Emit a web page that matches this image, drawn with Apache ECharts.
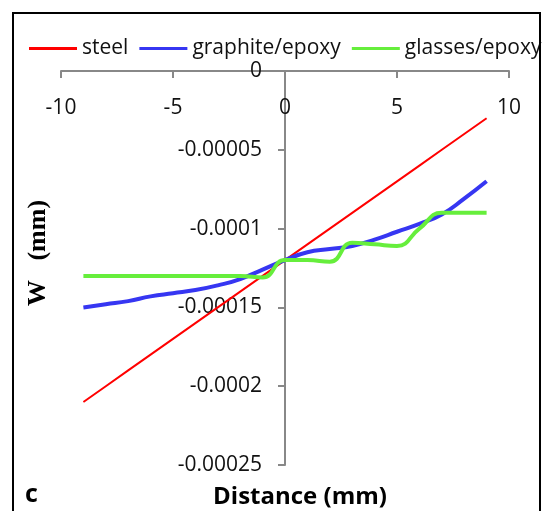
<!DOCTYPE html>
<html>
<head>
<meta charset="utf-8">
<script src="https://cdn.jsdelivr.net/npm/echarts@6/dist/echarts.min.js"></script>
<style>
  html, body { margin: 0; padding: 0; background: #fff; }
  #chart { width: 549px; height: 511px; }
</style>
</head>
<body>
<div id="chart"></div>
<script>
// Distance along the beam (mm)
const distance = [-9, -8, -7, -6, -5, -4, -3, -2, -1, 0, 1, 2, 3, 4, 5, 6, 7, 8, 9];

// Deflection W (mm) for each material
const steel = [-0.00021, -0.0002, -0.00019, -0.00018, -0.00017, -0.00016, -0.00015, -0.00014, -0.00013,
               -0.00012, -0.00011, -0.0001, -0.00009, -0.00008, -0.00007, -0.00006, -0.00005, -0.00004, -0.00003];
const graphiteEpoxy = [-0.00015, -0.000148, -0.000146, -0.000143, -0.000141, -0.000139, -0.000136, -0.000132, -0.000126,
                       -0.00012, -0.000115, -0.000113, -0.000111, -0.000107, -0.000102, -0.000097, -0.000091, -0.000081, -0.00007];
const glassesEpoxy = [-0.00013, -0.00013, -0.00013, -0.00013, -0.00013, -0.00013, -0.00013, -0.00013, -0.000131,
                      -0.00012, -0.00012, -0.000121, -0.000109, -0.00011, -0.000111, -0.0001, -0.00009, -0.00009, -0.00009];

const seriesNames = ['steel', 'graphite/epoxy', 'glasses/epoxy'];
const xTitle = 'Distance (mm)';
const yTitle = 'W   (mm)';
const panelTag = 'c';

const pairs = ys => distance.map((x, i) => [x, ys[i]]);

const axisGray = '#888888';
const textColor = '#111111';
const font = 'Open Sans';

// Plot area geometry; the vertical axis sits at distance 0
const W = 549, H = 511;
const gridBox = { left: 61, right: 40, top: 71, bottom: 46 };
const xMin = -10, xMax = 10;
const plotWidth = W - gridBox.left - gridBox.right;
const yAxisOffset = -plotWidth * (0 - xMin) / (xMax - xMin);

const chart = echarts.init(document.getElementById('chart'), null, { renderer: 'canvas' });

chart.setOption({
  backgroundColor: '#ffffff',
  animation: false,
  grid: Object.assign({ containLabel: false, outerBoundsMode: 'none' }, gridBox),
  legend: {
    data: seriesNames,
    left: 24,
    top: 33,
    icon: 'rect',
    itemWidth: 48,
    itemHeight: 3,
    itemGap: 11,
    textStyle: { fontFamily: font, fontSize: 21, color: textColor }
  },
  xAxis: {
    type: 'value',
    position: 'top',
    min: xMin,
    max: xMax,
    interval: 5,
    axisLine: { show: true, onZero: false, lineStyle: { color: axisGray, width: 2 } },
    axisTick: { show: true, inside: true, length: 7, lineStyle: { color: axisGray, width: 2 } },
    axisLabel: { inside: true, margin: 27, fontFamily: font, fontSize: 21, color: textColor },
    splitLine: { show: false }
  },
  yAxis: {
    type: 'value',
    position: 'left',
    offset: yAxisOffset,
    min: -0.00025,
    max: 0,
    interval: 0.00005,
    axisLine: { show: true, onZero: false, lineStyle: { color: axisGray, width: 2 } },
    axisTick: { show: true, inside: false, length: 7, lineStyle: { color: axisGray, width: 2 } },
    axisLabel: {
      margin: 23,
      fontFamily: font,
      fontSize: 21,
      color: textColor,
      formatter: v => String(+v.toFixed(6))
    },
    splitLine: { show: false }
  },
  series: [
    {
      name: seriesNames[0], type: 'line', data: pairs(steel), showSymbol: false,
      lineStyle: { color: '#ff0000', width: 2 }, itemStyle: { color: '#ff0000' }
    },
    {
      name: seriesNames[1], type: 'line', data: pairs(graphiteEpoxy), showSymbol: false, smooth: 0.5,
      lineStyle: { color: '#3636f2', width: 4 }, itemStyle: { color: '#3636f2' }
    },
    {
      name: seriesNames[2], type: 'line', data: pairs(glassesEpoxy), showSymbol: false, smooth: 0.5,
      lineStyle: { color: '#66ee3c', width: 4 }, itemStyle: { color: '#66ee3c' }
    }
  ],
  graphic: [
    {
      type: 'rect', silent: true, z: 100,
      shape: { x: 13, y: 13, width: 527, height: 520 },
      style: { fill: null, stroke: '#000000', lineWidth: 2 }
    },
    {
      type: 'text', x: 38, y: 253, rotation: Math.PI / 2,
      style: {
        text: yTitle, fontFamily: 'Liberation Serif', fontWeight: 'bold', fontSize: 26,
        fill: '#000000', align: 'center', verticalAlign: 'middle'
      }
    },
    {
      type: 'text', x: 300, y: 497,
      style: {
        text: xTitle, fontFamily: font, fontWeight: 'bold', fontSize: 24,
        fill: '#000000', align: 'center', verticalAlign: 'middle'
      }
    },
    {
      type: 'text', x: 25, y: 495,
      style: {
        text: panelTag, fontFamily: font, fontWeight: 'bold', fontSize: 25,
        fill: '#000000', align: 'left', verticalAlign: 'middle'
      }
    }
  ]
});
</script>
</body>
</html>
